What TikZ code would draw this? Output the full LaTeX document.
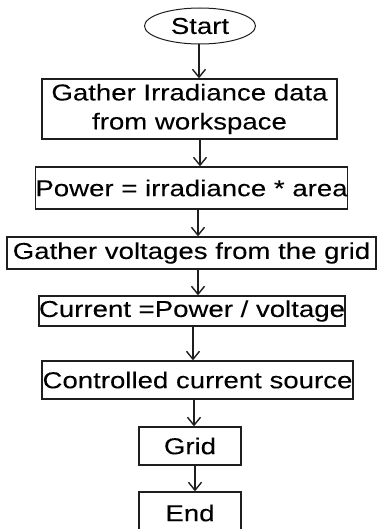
\documentclass[tikz,border=0pt]{standalone}
\usepackage{fontspec}
\setmainfont[FakeStretch=1.2,FakeBold=0.08]{Liberation Sans}
\usetikzlibrary{arrows.meta,shapes.geometric}
\definecolor{ink}{HTML}{1E1E1E}
\tikzset{
  box/.style={draw=ink, line width=1.3pt, rectangle, inner sep=0pt, text=black, font=\fontsize{23}{29}\selectfont, align=center},
  oval/.style={draw=ink, line width=1pt, ellipse, inner sep=0pt, text=black, font=\fontsize{23}{29}\selectfont},
  arr/.style={draw=ink, line width=1.4pt, -{Straight Barb[length=8pt,width=13pt,line width=1.4pt]}}
}
\begin{document}
\begin{tikzpicture}[x=1pt,y=-1pt]
\useasboundingbox (0,0) rectangle (377,529);
\clip (0,0) rectangle (377,529);
\node[oval, minimum width=111pt, minimum height=36pt] (s) at (200,26) {Start};
\node[box, minimum width=295pt, minimum height=60pt] (b1) at (189.5,109) {Gather Irradiance data\\from workspace};
\node[box, minimum width=311pt, minimum height=42pt] (b2) at (191.5,188) {Power = irradiance * area};
\node[box, minimum width=369pt, minimum height=32pt] (b3) at (191.5,253) {Gather voltages from the grid};
\node[box, minimum width=306pt, minimum height=30pt] (b4) at (192,311) {Current =Power / voltage};
\node[box, minimum width=311pt, minimum height=38pt] (b5) at (197.5,380) {Controlled current source};
\node[box, minimum width=102pt, minimum height=38pt] (g) at (190,446) {Grid};
\node[box, minimum width=102pt, minimum height=42pt] (e) at (190,513) {End};
\coordinate (x1) at (199,0);
\coordinate (x2) at (200,0);
\coordinate (x3) at (198,0);
\coordinate (x4) at (198,0);
\coordinate (x5) at (193,0);
\coordinate (x6) at (194,0);
\coordinate (x7) at (195,0);
\draw[arr] (s.south -| x1) -- (b1.north -| x1);
\draw[arr] (b1.south -| x2) -- (b2.north -| x2);
\draw[arr] (b2.south -| x3) -- (b3.north -| x3);
\draw[arr] (b3.south -| x4) -- (b4.north -| x4);
\draw[arr] (b4.south -| x5) -- (b5.north -| x5);
\draw[arr] (b5.south -| x6) -- (g.north -| x6);
\draw[arr] (g.south -| x7) -- (e.north -| x7);
\end{tikzpicture}
\end{document}
